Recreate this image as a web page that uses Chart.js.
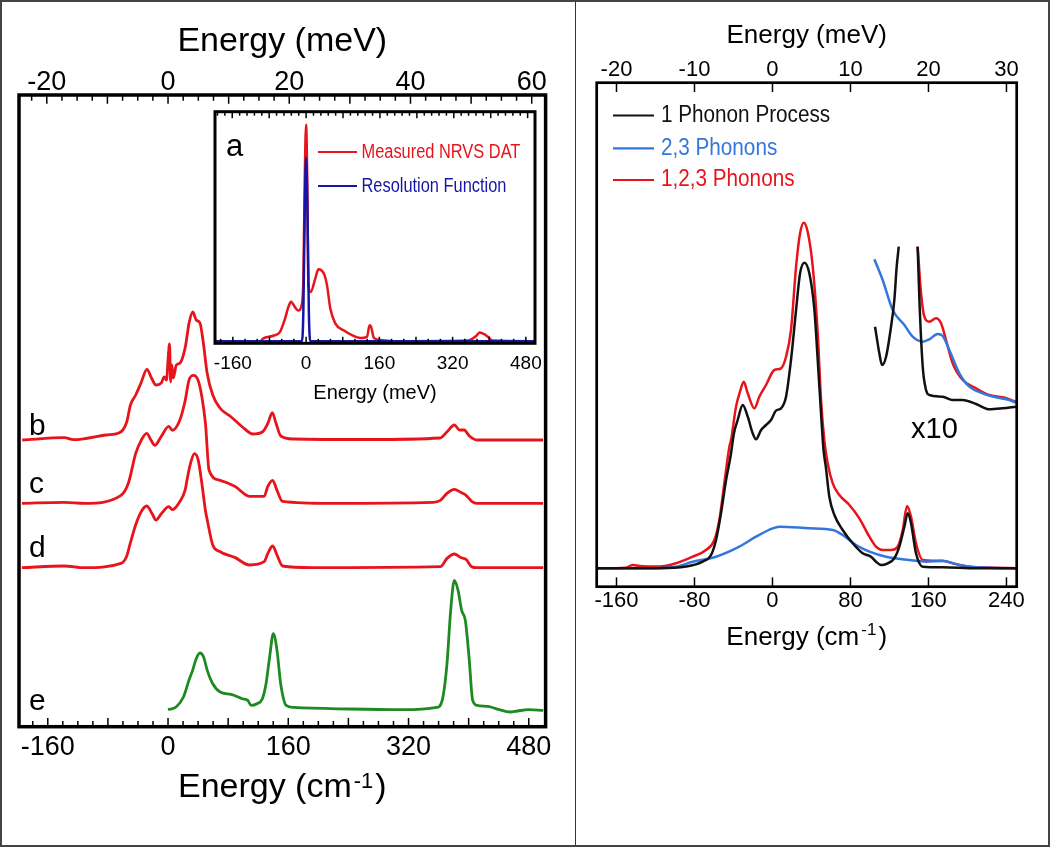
<!DOCTYPE html>
<html>
<head>
<meta charset="utf-8">
<title>NRVS spectra</title>
<script src="https://cdn.jsdelivr.net/npm/chart.js@4.4.1/dist/chart.umd.min.js"></script>
<style>
  html, body { margin: 0; padding: 0; background: #fff; }
  #fig { position: relative; width: 1050px; height: 847px; overflow: hidden; }
  #fig canvas { position: absolute; top: 0; }
  #divider { position: absolute; left: 575px; top: 0; width: 1px; height: 847px; background: #333; }
  #frame { position: absolute; left: 0; top: 0; width: 1050px; height: 847px; box-sizing: border-box; border: 2px solid #444; }
</style>
</head>
<body>
<div id="fig">
  <canvas id="leftChart" width="576" height="847" style="left:0"></canvas>
  <canvas id="insetChart" width="576" height="847" style="left:0"></canvas>
  <canvas id="rightChart" width="474" height="847" style="left:576px"></canvas>
  <div id="divider"></div>
  <div id="frame"></div>
</div>
<script>
// ---- left panel: stacked NRVS spectra (energy in cm-1, intensity arb. units) ----
const bX = [-194,-138,-126,-82,-63,-55,-50,-43,-36,-28,-22,-16,-9,-5,-2,0,2,3.5,5,7,11,16,23,28,33,37.5,42.5,47,52,59.5,69,84,99,113,125.5,133,138.7,143.6,150,167,265,362,371,381,388,394,401,411,499];
const bY = [0,2.3,0.3,5,8,18,35,45,57,70.7,62,55,57,63,60,80,96,58,75,62,75,77,93,117,128,120,117,97,67,45,32,23,13,6,8,17,27.3,17,4,1,0.5,2,8,15,10,10,4,0,0];

const cX = [-194.5,-138,-111,-62.6,-52.8,-43,-35.7,-28.4,-22.5,-17.6,-8.9,0.9,5.8,15.6,22.9,27.8,34.1,40,44.9,49.8,54.6,69.3,88.8,108.4,127.9,132.8,139.2,145,152.3,216,352.6,362.4,371.2,381,389.3,396.6,404,411,499];
const cY = [0,1,0,8,20,50,63,70,63,58,67,77,73,83,103,123,128,123,107,80,33,23,17,7,7,17,23,13,2,0,1,3,10,14,11,8,2,0,0];

const dX = [-194.5,-138.3,-111.4,-62.6,-55.3,-50.4,-43,-35.7,-28.4,-21.1,-16.2,-8.9,0.9,5.8,15.6,22.9,25.3,30.2,35.1,40,44.9,49.8,52.2,59.5,69.3,88.8,108.4,127.9,132.8,139.2,145,152.3,191.4,362.4,371.2,381,389.3,396.6,404,411,499.2];
const dY = [0,1.7,0,4.3,11,24,43,56,61.7,54,47.7,54,61,58,66,78,88,105,114,108,85,57,47.7,22.7,16,10.3,2.7,6,14.3,21.7,12.7,1.7,0,1,9.3,13.7,10.3,8.3,1,0,0];

const eX = [0,10.7,20.5,27.8,32.7,37.5,42.4,47.3,52.2,59.5,69.3,84,98.6,106,110.8,118.2,125.5,130.4,135.2,140.1,145,149.9,157.2,167,240.3,313.6,357.5,364.8,371.2,376.1,381,385.9,390.7,395.6,400.5,405.4,411.3,425.9,440.6,455.2,465,479.6,499.2];
const eY = [0,2.7,12.7,29.3,39.3,51,56.7,52.7,39.3,26,17.7,15.3,11,9.3,4.3,6,11,26,52.7,76,59.3,26,4.3,2.3,0.7,0,2.3,9.3,46,99.3,129.3,119.3,99.3,89.3,52.7,9.3,4.3,3.3,0,-2.3,-1.3,0,-0.7];

// vertical stacking offsets of the traces
const stackOffsets = { b: 286.7, c: 223.4, d: 159, e: 17 };
const stackLabels = ['b', 'c', 'd', 'e'];

// ---- inset (a): measured NRVS data and resolution function ----
const insetRedX = [-199,-100,-94,-72,-57,-46,-39,-33,-24,-17,-10,-6,-3,0,2.5,5,10,20,27,33,40,45.5,53,64,82,100,119,133,138.6,142,148,163,191,353,372,379,390,397,408,500];
const insetRedY = [0,0,1.2,2.5,4.3,10.4,15.6,18.2,15.6,14.1,16.5,28.6,74.5,100,74.5,25.7,22.7,28.9,33.2,32.8,30.6,26,15,8.1,5,2.8,1.5,2,7.3,6.6,1.5,0.5,0,0.3,2.5,4,3.1,2,0.3,0];
const insetBlueX = [-199,-9,-6,-3,0,3,6,9,500];
const insetBlueY = [0,0,13.8,59.7,84.7,59.7,13.8,0,0];

// ---- right panel: phonon decomposition ----
const oneX = [-179.3,-150.2,-116,-88.7,-71.6,-63,-57.9,-52.8,-47.6,-43,-39.5,-35.7,-30.5,-25.4,-20.3,-16.9,-11.7,-6.6,-1.5,3.6,8.8,13.9,19,24.2,28.3,32.7,37.8,43,46.4,49.8,52.2,54.9,58.3,63.5,72,82.3,92.5,101.1,106.2,111.3,118.2,125,130.1,135.3,138.7,142.1,147.2,154.1,174.6,208.8,249.8];
const oneY = [0,0,0,1.7,6.7,13.3,28.3,55,88.3,112,135,148.3,163.3,151.6,135,129,138.3,143.3,148.3,157.6,160,171.6,208.3,258.3,295,305.6,295,258.3,208.3,155,120,100,71.6,53.3,38.3,25,15,11.6,6.6,3.3,5,10,21.6,41.6,55,45,15,1.6,1,0,0];

const multiX = [-179.3,-133.1,-98.9,-81.8,-57.9,-34,-16.9,0.2,7.1,37.8,61.8,72,85.7,99.4,116.5,140.5,157.5,174.6,191.7,208.8,249.8];
const multiY = [0,0,1.6,6.6,11.6,21.6,31.6,40,41.6,40,38.3,33.3,23.3,16.6,11.6,8.3,6.6,7.3,3.3,1,0];

const totalX = [-179.3,-150.2,-143.4,-136.5,-116,-98.9,-81.8,-68.2,-59.6,-54.5,-49.4,-44.2,-42.5,-37.4,-33.3,-29.5,-25.4,-18.6,-13.5,-6.6,1.9,8.8,13.9,19,24.2,28.3,32,36.1,41.3,46.4,49.8,53.2,56.6,61.8,68.6,78.9,89.1,99.4,106.2,113,121.6,128.4,133.6,138,142.1,147.2,154.1,164.3,174.6,184.8,201.9,225.9,249.8];
const totalY = [0,0.6,3.3,2.3,1.7,5,11.6,18.3,28.3,48.3,85,121.6,128.3,161.6,176.6,186.6,175,160,171.6,183.3,198.3,200,211.6,238.3,301.6,335,345.6,336.6,301.6,235,168.3,128,105,85,73.3,63.3,50,31.6,21.6,18.3,18.3,21.6,38.3,62.3,51.6,25,8.3,7.6,7.6,5,1.6,0.6,0];

// x10 magnified traces (peak at 140 cm-1 runs off scale, hence the gap)
const oneX10X = [105.2,109.6,112.4,116.5,121.6,125,127.4,129.5,139,148.9,150.7,154.1,157.5,160.9,174.6,184.8,195.1,208.8,222.4,236.1,249.8];
const oneX10Y = [83.3,56.7,45,53.3,83.3,110,143.3,163.3,null,163.3,110,43.3,20,15,13.3,10,10,6,0.7,1.7,3.3];
const multiX10X = [104.5,113,123.3,135.3,143.8,154.1,160.9,169.4,174.6,181.4,191.7,201.9,215.6,229.3,243,249.8];
const multiX10Y = [150.7,130,100,85,73.3,68.3,70.7,76,74,60,36.7,23.3,16.7,12.7,10,7.3];
const totalX10X = [148.9,152.4,155.8,160.9,167.7,172.9,178,184.8,195.1,208.8,222.4,236.1,249.8];
const totalX10Y = [163.3,116.7,93.3,88.3,91.7,86.7,70,46.7,30,21.7,15,12.7,8.3];
const x10Offset = 158.3;

const CM_PER_MEV = 8.0655;

Chart.defaults.font.family = "'Liberation Sans', Arial, Helvetica, sans-serif";
Chart.defaults.color = '#000';

function pts(xs, ys, off = 0) {
  return xs.map((x, i) => ({ x, y: ys[i] === null ? null : ys[i] + off }));
}
function isMult(v, m) {
  const q = v / m;
  return Math.abs(q - Math.round(q)) < 1e-6;
}
function drawText(ctx, text, x, y, font, color, baseline, sx) {
  ctx.save();
  ctx.font = font;
  ctx.fillStyle = color;
  ctx.textAlign = 'left';
  ctx.textBaseline = baseline;
  ctx.translate(x, y);
  if (sx) ctx.scale(sx, 1);
  ctx.fillText(text, 0, 0);
  ctx.restore();
}

// box around the plot area + inward pointing tick marks
const framePlugin = {
  id: 'frame',
  afterDatasetsDraw(chart, args, opts) {
    const { ctx, chartArea: a } = chart;
    ctx.save();
    ctx.strokeStyle = '#000';
    (opts.ticks || []).forEach(t => {
      const sc = chart.scales[t.axis];
      ctx.lineWidth = t.lw || 1.5;
      sc.ticks.forEach(tk => {
        const px = sc.getPixelForValue(tk.value);
        if (px < a.left + 2 || px > a.right - 2) return;
        const len = (!t.long || isMult(tk.value, t.long)) ? t.longLen : t.shortLen;
        const y0 = t.side === 'top' ? a.top : a.bottom;
        const dir = t.side === 'top' ? 1 : -1;
        ctx.beginPath();
        ctx.moveTo(px, y0);
        ctx.lineTo(px, y0 + dir * (len + opts.width / 2));
        ctx.stroke();
      });
    });
    ctx.lineWidth = opts.width;
    ctx.strokeRect(a.left, a.top, a.right - a.left, a.bottom - a.top);
    ctx.restore();
  }
};

// panel letters, legends and the axis title with a superscript
const notesPlugin = {
  id: 'notes',
  afterDraw(chart, args, opts) {
    const ctx = chart.ctx;
    (opts.legend || []).forEach(item => {
      const ds = chart.data.datasets[item.ds];
      ctx.save();
      ctx.strokeStyle = ds.borderColor;
      ctx.lineWidth = item.lw || 2;
      ctx.beginPath();
      ctx.moveTo(item.x1, item.y);
      ctx.lineTo(item.x2, item.y);
      ctx.stroke();
      ctx.restore();
      drawText(ctx, ds.label, item.tx, item.y, item.font, ds.borderColor, 'middle', item.sx);
    });
    (opts.labels || []).forEach(l => drawText(ctx, l.text, l.x, l.y, l.font, l.color || '#000', 'alphabetic', l.sx));
    const t = opts.supTitle;
    if (t) {
      const a = chart.chartArea;
      ctx.save();
      ctx.font = t.font; const w1 = ctx.measureText(t.base).width;
      ctx.font = t.supFont; const w2 = ctx.measureText(t.sup).width;
      ctx.font = t.font; const w3 = ctx.measureText(t.tail).width;
      ctx.restore();
      const gap = t.gap || 1;
      const x = (a.left + a.right) / 2 - (w1 + w2 + w3 + 2 * gap) / 2;
      drawText(ctx, t.base, x, t.y, t.font, '#000', 'alphabetic');
      drawText(ctx, t.sup, x + w1 + gap, t.supY, t.supFont, '#000', 'alphabetic');
      drawText(ctx, t.tail, x + w1 + w2 + 2 * gap, t.y, t.font, '#000', 'alphabetic');
    }
  }
};

function hiddenGrid() {
  return { display: false, drawTicks: false };
}

// ---------------- left chart ----------------
// (range deliberately not a whole number of steps so ticks stay on round values)
const leftMin = -198.3, leftMax = 502.4;
const leftSets = [
  { key: 'b', xs: bX, ys: bY, color: '#e8141b' },
  { key: 'c', xs: cX, ys: cY, color: '#e8141b' },
  { key: 'd', xs: dX, ys: dY, color: '#e8141b' },
  { key: 'e', xs: eX, ys: eY, color: '#1e8a22' }
];

new Chart(document.getElementById('leftChart'), {
  type: 'line',
  data: {
    datasets: leftSets.map(s => ({
      label: s.key,
      data: pts(s.xs, s.ys, stackOffsets[s.key]),
      borderColor: s.color,
      borderWidth: 2.8,
      pointRadius: 0,
      cubicInterpolationMode: 'monotone'
    }))
  },
  options: {
    responsive: false,
    animation: false,
    events: [],
    layout: { padding: { left: 19, right: 30.4, top: 0, bottom: 0 }, autoPadding: false },
    plugins: {
      legend: { display: false },
      tooltip: { enabled: false },
      frame: {
        width: 3.5,
        ticks: [
          { axis: 'x', side: 'bottom', long: 80, longLen: 7, shortLen: 4 },
          { axis: 'x2', side: 'top', long: 10, longLen: 7, shortLen: 4 }
        ]
      },
      notes: {
        labels: stackLabels.map((k, i) => ({
          text: k, x: 29, y: [435, 493.3, 557, 710][i], font: '30px "Liberation Sans", Arial, sans-serif'
        })),
        supTitle: {
          base: 'Energy (cm', sup: '-1', tail: ')',
          font: '34px "Liberation Sans", Arial, sans-serif',
          supFont: '22px "Liberation Sans", Arial, sans-serif',
          y: 797, supY: 788, gap: 2
        }
      }
    },
    scales: {
      x: {
        type: 'linear', position: 'bottom', min: leftMin, max: leftMax,
        afterFit: s => { s.height = 120.3; },
        grid: hiddenGrid(), border: { display: false },
        ticks: {
          stepSize: 20, includeBounds: false, autoSkip: false, maxRotation: 0, padding: 5,
          font: { size: 27 },
          callback: v => isMult(v, 160) ? String(Math.round(v)) : ''
        }
      },
      x2: {
        type: 'linear', position: 'top', min: leftMin / CM_PER_MEV, max: leftMax / CM_PER_MEV,
        afterFit: s => { s.height = 95; },
        grid: hiddenGrid(), border: { display: false },
        title: { display: true, text: 'Energy (meV)', font: { size: 34 }, padding: 21 },
        ticks: {
          stepSize: 2.5, includeBounds: false, autoSkip: false, maxRotation: 0, padding: -4,
          font: { size: 27 },
          callback: v => isMult(v, 20) ? String(Math.round(v)) : ''
        }
      },
      y: { display: false, min: 0, max: 631.7 }
    }
  },
  plugins: [framePlugin, notesPlugin]
});

// ---------------- inset chart ----------------
const insetMin = -199, insetMax = 500;
new Chart(document.getElementById('insetChart'), {
  type: 'line',
  data: {
    datasets: [
      { label: 'Resolution Function', data: pts(insetBlueX, insetBlueY), borderColor: '#1616a6', borderWidth: 2.5, pointRadius: 0, cubicInterpolationMode: 'monotone' },
      { label: 'Measured NRVS DAT', data: pts(insetRedX, insetRedY), borderColor: '#e8141b', borderWidth: 2.5, pointRadius: 0, cubicInterpolationMode: 'monotone' }
    ]
  },
  options: {
    responsive: false,
    animation: false,
    events: [],
    layout: { padding: { left: 215, right: 41, top: 0, bottom: 0 }, autoPadding: false },
    plugins: {
      legend: { display: false },
      tooltip: { enabled: false },
      frame: {
        width: 3,
        ticks: [
          { axis: 'x', side: 'bottom', long: 80, longLen: 5, shortLen: 3 },
          { axis: 'x2', side: 'top', long: 10, longLen: 5, shortLen: 2.5 }
        ]
      },
      notes: {
        legend: [
          { ds: 1, x1: 318, x2: 357, y: 152, tx: 361.5, font: '20px "Liberation Sans", Arial, sans-serif', sx: 0.82, lw: 2 },
          { ds: 0, x1: 318, x2: 357, y: 186, tx: 361.5, font: '20px "Liberation Sans", Arial, sans-serif', sx: 0.82, lw: 2 }
        ],
        labels: [{ text: 'a', x: 226, y: 156, font: '31px "Liberation Sans", Arial, sans-serif' }]
      }
    },
    scales: {
      x: {
        type: 'linear', position: 'bottom', min: insetMin, max: insetMax,
        afterFit: s => { s.height = 503.7; },
        grid: hiddenGrid(), border: { display: false },
        title: { display: true, text: 'Energy (meV)', font: { size: 20 }, padding: 442 },
        ticks: {
          stepSize: 160 / 6, includeBounds: false, autoSkip: false, maxRotation: 0, padding: 9,
          font: { size: 19 },
          callback: v => isMult(v, 160) ? String(Math.round(v)) : ''
        }
      },
      x2: {
        type: 'linear', position: 'top', min: insetMin / CM_PER_MEV, max: insetMax / CM_PER_MEV,
        afterFit: s => { s.height = 111.7; },
        grid: hiddenGrid(), border: { display: false },
        ticks: { stepSize: 2, includeBounds: false, autoSkip: false, display: false }
      },
      y: { display: false, min: -1, max: 106 }
    }
  },
  plugins: [framePlugin, notesPlugin]
});

// ---------------- right chart ----------------
const rightMin = -180.3, rightMax = 250.5;
const RIGHT_CM_PER_MEV = 8;
const black = '#111111', blue = '#3477dc', red = '#e8141b';
new Chart(document.getElementById('rightChart'), {
  type: 'line',
  data: {
    datasets: [
      { label: '1 Phonon Process', data: pts(oneX, oneY), borderColor: black },
      { label: '2,3 Phonons', data: pts(multiX, multiY), borderColor: blue },
      { label: '1,2,3 Phonons', data: pts(totalX, totalY), borderColor: red },
      { label: '1 Phonon x10', data: pts(oneX10X, oneX10Y, x10Offset), borderColor: black },
      { label: '2,3 Phonons x10', data: pts(multiX10X, multiX10Y, x10Offset), borderColor: blue },
      { label: '1,2,3 Phonons x10', data: pts(totalX10X, totalX10Y, x10Offset), borderColor: red }
    ].map(d => Object.assign(d, { borderWidth: 2.5, pointRadius: 0, cubicInterpolationMode: 'monotone' }))
  },
  options: {
    responsive: false,
    animation: false,
    events: [],
    layout: { padding: { left: 20.7, right: 33.3, top: 0, bottom: 0 }, autoPadding: false },
    plugins: {
      legend: { display: false },
      tooltip: { enabled: false },
      frame: {
        width: 2.7,
        ticks: [
          { axis: 'x', side: 'bottom', longLen: 8 },
          { axis: 'x2', side: 'top', longLen: 8 }
        ]
      },
      notes: {
        legend: [
          { ds: 0, x1: 37, x2: 78, y: 115.5, tx: 85, font: '23px "Liberation Sans", Arial, sans-serif', sx: 0.9, lw: 2.2 },
          { ds: 1, x1: 37, x2: 78, y: 148.3, tx: 85, font: '23px "Liberation Sans", Arial, sans-serif', sx: 0.9, lw: 2.2 },
          { ds: 2, x1: 37, x2: 78, y: 180, tx: 85, font: '23px "Liberation Sans", Arial, sans-serif', sx: 0.9, lw: 2.2 }
        ],
        labels: [{ text: 'x10', x: 335, y: 438, font: '29px "Liberation Sans", Arial, sans-serif' }],
        supTitle: {
          base: 'Energy (cm', sup: '-1', tail: ')',
          font: '26px "Liberation Sans", Arial, sans-serif',
          supFont: '17px "Liberation Sans", Arial, sans-serif',
          y: 645, supY: 635, gap: 2
        }
      }
    },
    scales: {
      x: {
        type: 'linear', position: 'bottom', min: rightMin, max: rightMax,
        afterFit: s => { s.height = 260.3; },
        grid: hiddenGrid(), border: { display: false },
        ticks: { stepSize: 80, includeBounds: false, autoSkip: false, maxRotation: 0, padding: 1, font: { size: 22 } }
      },
      x2: {
        type: 'linear', position: 'top', min: rightMin / RIGHT_CM_PER_MEV, max: rightMax / RIGHT_CM_PER_MEV,
        afterFit: s => { s.height = 82.7; },
        grid: hiddenGrid(), border: { display: false },
        title: { display: true, text: 'Energy (meV)', font: { size: 26 }, padding: 20 },
        ticks: { stepSize: 10, includeBounds: false, autoSkip: false, maxRotation: 0, padding: -0.5, font: { size: 22 } }
      },
      y: { display: false, min: -18.4, max: 485.6 }
    }
  },
  plugins: [framePlugin, notesPlugin]
});
</script>
</body>
</html>
